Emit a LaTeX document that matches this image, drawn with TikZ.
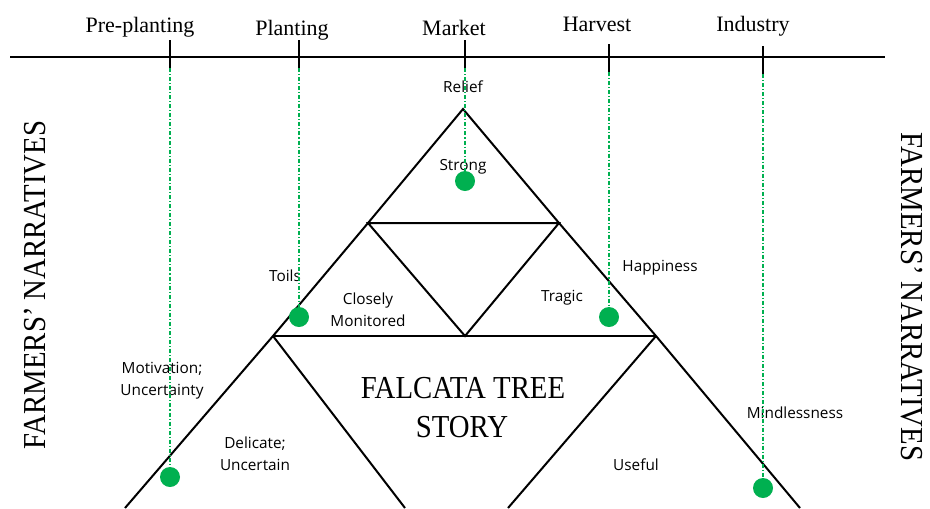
\documentclass[tikz,border=0pt]{standalone}
\usepackage{fontspec}
\setmainfont{Liberation Serif}
\newfontfamily\capsfont[FakeStretch=0.9]{Liberation Serif}
\newfontfamily\labfont{Open Sans}
\definecolor{dotgreen}{HTML}{00B050}
\begin{document}
\begin{tikzpicture}[x=0.75pt,y=-0.75pt,
  tri/.style={line width=1.5pt, line join=miter},
  axis/.style={line width=1.6pt},
  tickline/.style={line width=1.2pt},
  guide/.style={dotgreen, line width=0.9pt, dash pattern=on 3pt off 1.5pt on 0.8pt off 1.5pt},
  gdot/.style={circle, fill=dotgreen, inner sep=0pt, minimum size=15pt},
  lab/.style={font=\labfont\fontsize{11.5}{16.5}\selectfont, align=center, inner sep=0pt},
  stage/.style={font=\fontsize{16.5}{18}\selectfont, anchor=base, inner sep=0pt},
  bigcap/.style={font=\capsfont\fontsize{24}{29}\selectfont, inner sep=0pt},
]
\useasboundingbox (0,0) rectangle (930,508);
\clip (0,0) rectangle (930,508);

% timeline
\coordinate (L) at (10,57);
\coordinate (R) at (885,57);
\draw[axis] (L) -- (R);

% ticks
\coordinate (pp1) at (170,40); \coordinate (pp2) at (170,68);
\coordinate (pl1) at (299,40); \coordinate (pl2) at (299,68);
\coordinate (mk1) at (465,40); \coordinate (mk2) at (465,68);
\coordinate (hv1) at (609,44); \coordinate (hv2) at (609,72);
\coordinate (in1) at (763,46); \coordinate (in2) at (763,74);
\foreach \t in {pp,pl,mk,hv,in} {\draw[tickline] (\t1) -- (\t2);}

% stage labels
\node[stage] (lpp) at (140,32) {Pre-planting};
\node[stage] (lpl) at (292,35) {Planting};
\node[stage] (lmk) at (454,35) {Market};
\node[stage] (lhv) at (597,31) {Harvest};
\node[stage] (lin) at (753,31) {Industry};

% triangles
\coordinate (A) at (463,109);
\coordinate (B1) at (368,223); \coordinate (B2) at (559,223);
\coordinate (C1) at (273,336); \coordinate (C2) at (465,336); \coordinate (C3) at (656,336);
\coordinate (D1) at (125,508); \coordinate (D2) at (405,508);
\coordinate (D3) at (508,508); \coordinate (D4) at (800,508);
\draw[tri] (D1) -- (C1) -- (B1) -- (A) -- (B2) -- (C3) -- (D4);
\draw[tri] (B1) -- (B2) -- (C2) -- cycle;
\draw[tri] (C1) -- (C3);
\draw[tri] (C1) -- (D2);
\draw[tri] (C3) -- (D3);

% labels
\node[lab] (relief) at (463,87) {Relief};
\node[lab] (strong) at (463,167) {Strong};
\node[lab] (toils) at (285,276) {Toils};
\node[lab] (closely) at (368,310) {Closely\\Monitored};
\node[lab] (tragic) at (562,298) {Tragic};
\node[lab] (happy) at (660,268) {Happiness};
\node[lab] (motiv) at (162,381) {Motivation;\\Uncertainty};
\node[lab] (delic) at (255,454) {Delicate;\\Uncertain};
\node[lab] (useful) at (636,465) {Useful};
\node[lab] (mindless) at (795,413) {Mindlessness};

% title
\node[bigcap, anchor=base] (title1) at (463,398) {FALCATA TREE};
\node[bigcap, anchor=base] (title2) at (462,437) {STORY};

% side texts
\node[bigcap, rotate=90] (leftside) at (35,285) {FARMERS’ NARRATIVES};
\node[bigcap, rotate=-90] (rightside) at (912,297) {FARMERS’ NARRATIVES};

% dots
\coordinate (dpp) at (170,477);
\coordinate (dpl) at (299,317);
\coordinate (dmk) at (465,181);
\coordinate (dhv) at (609,317);
\coordinate (din) at (763,488);
\foreach \t in {pp,pl,mk,hv,in} {\draw[guide] (\t2) -- (d\t);}
\foreach \t in {pp,pl,mk,hv,in} {\node[gdot] (g\t) at (d\t) {};}
\end{tikzpicture}
\end{document}
